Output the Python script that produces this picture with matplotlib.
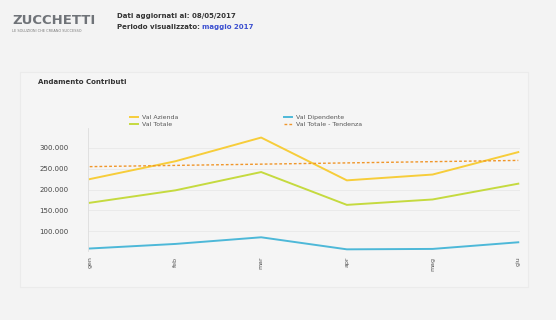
import matplotlib.pyplot as plt
from matplotlib.patches import Rectangle
from matplotlib.ticker import FuncFormatter

mesi = ["gen", "feb", "mar", "apr", "mag", "giu"]
val_azienda = [225000, 268000, 325000, 222000, 236000, 290000]
val_totale = [168000, 198000, 242000, 163000, 176000, 214000]
val_dipendente = [58000, 69000, 85000, 56000, 57000, 73000]
val_tendenza = [255000, 258000, 261000, 264000, 267000, 270000]

W, H = 556, 320
fig = plt.figure(figsize=(W / 100, H / 100), dpi=100)
fig.patch.set_facecolor("#f3f3f3")

# header
fig.text(12 / W, 1 - 20 / H, "ZUCCHETTI", fontsize=9.5, fontweight="bold",
         color="#6f7378", va="center")
fig.text(12 / W, 1 - 31 / H, "LE SOLUZIONI CHE CREANO SUCCESSO", fontsize=2.5,
         color="#777777", va="center")
fig.text(117 / W, 1 - 16 / H, "Dati aggiornati al: 08/05/2017", fontsize=5,
         fontweight="bold", color="#333333", va="center")
per = fig.text(117 / W, 1 - 27 / H, "Periodo visualizzato: ", fontsize=5,
               fontweight="bold", color="#333333", va="center")
fig.canvas.draw()
bb = per.get_window_extent()
fig.text(bb.x1 / W, 1 - 27 / H, "maggio 2017", fontsize=5, fontweight="bold",
         color="#3b4fd0", va="center")

# pannello grafico
fig.add_artist(Rectangle((20 / W, 1 - 287 / H), 508 / W, 215 / H,
                         transform=fig.transFigure, facecolor="#f5f5f5",
                         edgecolor="#ebebeb", lw=0.8, zorder=-5))
fig.text(38 / W, 1 - 82 / H, "Andamento Contributi", fontsize=5,
         fontweight="bold", color="#333333", va="center")

ax = fig.add_axes([88 / W, 1 - 251 / H, (520 - 88) / W, (251 - 128) / H])
ax.set_facecolor("#f5f5f5")
x = range(len(mesi))
ax.plot(x, val_azienda, color="#f7cd3a", lw=1.4, label="Val Azienda")
ax.plot(x, val_totale, color="#c5da3f", lw=1.4, label="Val Totale")
ax.plot(x, val_dipendente, color="#4db8d8", lw=1.4, label="Val Dipendente")
ax.plot(x, val_tendenza, color="#f0962a", lw=1.0, ls=(0, (2, 1.5)),
        label="Val Totale - Tendenza")

ax.set_xlim(-0.02, len(mesi) - 1 + 0.02)
ax.set_ylim(52000, 348000)
ax.set_yticks([100000, 150000, 200000, 250000, 300000])
ax.yaxis.set_major_formatter(FuncFormatter(lambda v, p: f"{int(v):,}".replace(",", ".")))
ax.set_xticks(list(x))
ax.set_xticklabels(mesi, rotation=90, fontsize=4.5, color="#555555")
ax.tick_params(axis="y", labelsize=5, colors="#444444", length=0, pad=14)
ax.tick_params(axis="x", length=0, pad=4)
ax.grid(axis="y", color="#e9e9e9", lw=0.6)
for s in ["top", "right", "bottom"]:
    ax.spines[s].set_visible(False)
ax.spines["left"].set_color("#dddddd")
ax.spines["left"].set_linewidth(0.6)

leg = fig.legend(loc="center", bbox_to_anchor=(246 / W, 1 - 121 / H), ncol=2,
                 fontsize=4.5, frameon=False, handlelength=1.2,
                 columnspacing=17, labelspacing=0.3, handletextpad=0.6)
for txt in leg.get_texts():
    txt.set_color("#555555")

fig.savefig("out.png", dpi=100, facecolor=fig.get_facecolor())
